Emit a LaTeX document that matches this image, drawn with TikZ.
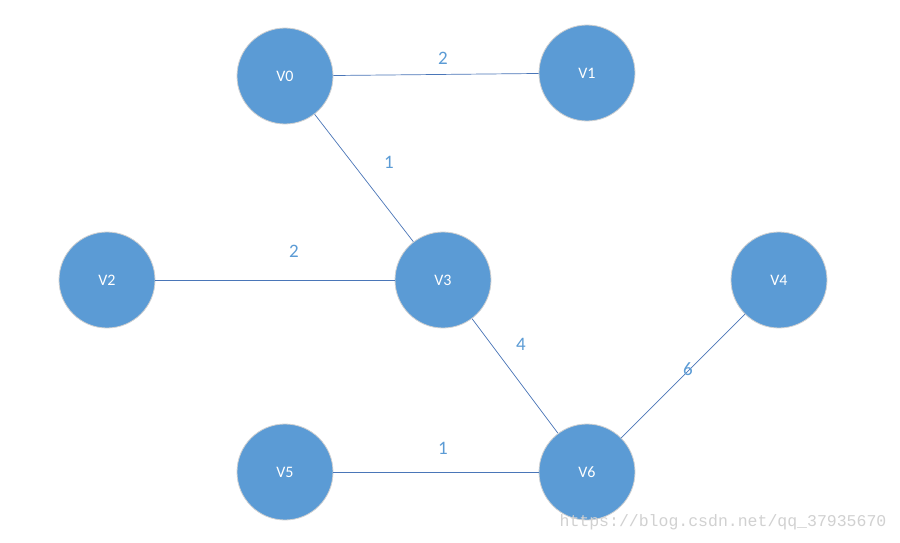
\documentclass[tikz,border=0pt]{standalone}
\usepackage{fontspec}
\setmainfont{Carlito}
\newfontfamily\wmfont{Liberation Mono}
\definecolor{nodeblue}{HTML}{5B9BD5}
\definecolor{edgeblue}{HTML}{4A76B8}
\tikzset{
  vert/.style={circle, fill=nodeblue, draw=black!18, line width=0.8pt, minimum size=96pt, inner sep=0pt, text=white, font=\fontsize{16}{16}\selectfont},
  edge/.style={draw=edgeblue, line width=0.7pt},
  wlabel/.style={text=nodeblue, font=\fontsize{19}{19}\selectfont, inner sep=0pt}
}
\begin{document}
\begin{tikzpicture}[x=1pt,y=-1pt]
\useasboundingbox[fill=white] (0,0) rectangle (900,543);
\node[vert] (v0) at (285,76) {V0};
\node[vert] (v1) at (587,73) {V1};
\node[vert] (v2) at (107,280) {V2};
\node[vert] (v3) at (443,280) {V3};
\node[vert] (v4) at (779,280) {V4};
\node[vert] (v5) at (285,472) {V5};
\node[vert] (v6) at (587,472) {V6};
\draw[edge] (v0) -- (v1);
\draw[edge] (v0) -- (v3);
\draw[edge] (v2) -- (v3);
\draw[edge] (v3) -- (v6);
\draw[edge] (v6) -- (v4);
\draw[edge] (v5) -- (v6);
\node[wlabel] (l01) at (443,58) {2};
\node[wlabel] (l03) at (389,162) {1};
\node[wlabel] (l23) at (294,251) {2};
\node[wlabel] (l36) at (521,344) {4};
\node[wlabel] (l64) at (688,369) {6};
\node[wlabel] (l56) at (443,448) {1};
\node[text=black!18, font=\wmfont\fontsize{16.5}{16.5}\selectfont, inner sep=0pt] (wm) at (723,522) {https://blog.csdn.net/qq\_37935670};
\end{tikzpicture}
\end{document}
